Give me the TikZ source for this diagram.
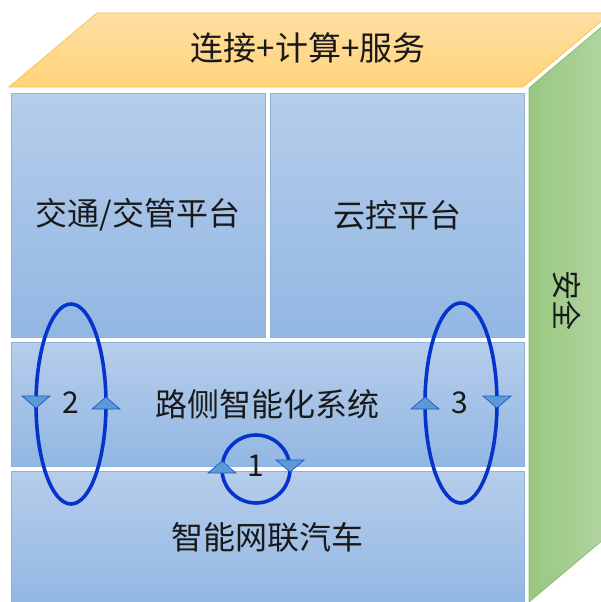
\documentclass[tikz,border=0pt]{standalone}
\usepackage{fontspec}
\newfontfamily\cjk{Noto Sans CJK SC}
\definecolor{bluetop}{RGB}{182,205,235}
\definecolor{bluebot}{RGB}{146,183,227}
\definecolor{blueline}{RGB}{142,178,222}
\definecolor{orgtop}{RGB}{254,223,163}
\definecolor{orgbot}{RGB}{255,211,122}
\definecolor{orgline}{RGB}{250,196,80}
\definecolor{grnleft}{RGB}{152,199,128}
\definecolor{grnright}{RGB}{182,215,165}
\definecolor{grnline}{RGB}{140,190,112}
\definecolor{loopcol}{RGB}{5,52,204}
\definecolor{trifill}{RGB}{91,155,213}
\definecolor{triline}{RGB}{35,85,200}
\begin{document}
\begin{tikzpicture}[x=1pt,y=-1pt,
  every node/.style={font=\cjk\fontsize{32}{34}\selectfont, text=black!90},
  blockbox/.style={draw=blueline, line width=0.8pt, top color=bluetop, bottom color=bluebot,
    anchor=north west, inner sep=0pt, outer sep=0pt},
  looppath/.style={draw=loopcol, line width=3.6pt},
  tri/.style={fill=trifill, draw=triline, line width=0.7pt, line join=miter},
  numlabel/.style={font=\cjk\fontsize{30}{32}\selectfont}
]
\useasboundingbox (0,0) rectangle (601,602);
\clip (0,0) rectangle (601,602);
% top face
\path[top color=orgtop, bottom color=orgbot, draw=orgline, line width=0.8pt]
  (9,87) -- (97,13) -- (611,13) -- (523,87) -- cycle;
\node[font=\cjk\fontsize{33}{35}\selectfont] (top) at (308,48) {连接+计算+服务};
% right face
\path[left color=grnleft, right color=grnright, draw=grnline, line width=0.8pt]
  (529,88) -- (617,14) -- (617,528) -- (529,602) -- cycle;
\node[rotate=-90, font=\cjk\fontsize{30}{32}\selectfont] (safe) at (567,300) {安全};
% front blocks
\node[blockbox, minimum width=254pt, minimum height=244pt] (tl) at (11,93) {};
\node at (tl.center) (tltext) {交通/交管平台};
\node[blockbox, minimum width=254pt, minimum height=244pt] (tr) at (270,93) {};
\node at (tr.center) (trtext) {云控平台};
\node[blockbox, minimum width=513pt, minimum height=124pt] (mid) at (11,342) {};
\node at (mid.center) (midtext) {路侧智能化系统};
\node[blockbox, minimum width=513pt, minimum height=135pt] (bot) at (11,471) {};
\node at (267,537) (bottext) {智能网联汽车};
% loops
\draw[looppath] (71,404) ellipse [x radius=35, y radius=100];
\draw[looppath] (461,403) ellipse [x radius=36, y radius=100];
\draw[looppath] (256,469) circle [radius=34];
% arrowheads
\newcommand\downtri[1]{\filldraw[tri] (#1) ++(-14,-6) -- ++(28,0) -- ++(-14,12) -- cycle;}
\newcommand\uptri[1]{\filldraw[tri] (#1) ++(-14,6) -- ++(28,0) -- ++(-14,-12) -- cycle;}
\coordinate (a2l) at (36,402);
\coordinate (a2r) at (106,403);
\coordinate (a3l) at (425,403);
\coordinate (a3r) at (497,402);
\coordinate (a1l) at (222,467);
\coordinate (a1r) at (290,466);
\downtri{a2l}
\uptri{a2r}
\uptri{a3l}
\downtri{a3r}
\uptri{a1l}
\downtri{a1r}
% numbers
\node[numlabel] (n2) at (71,403) {2};
\node[numlabel] (n3) at (460,403) {3};
\node[numlabel] (n1) at (256,466) {1};
\end{tikzpicture}
\end{document}
